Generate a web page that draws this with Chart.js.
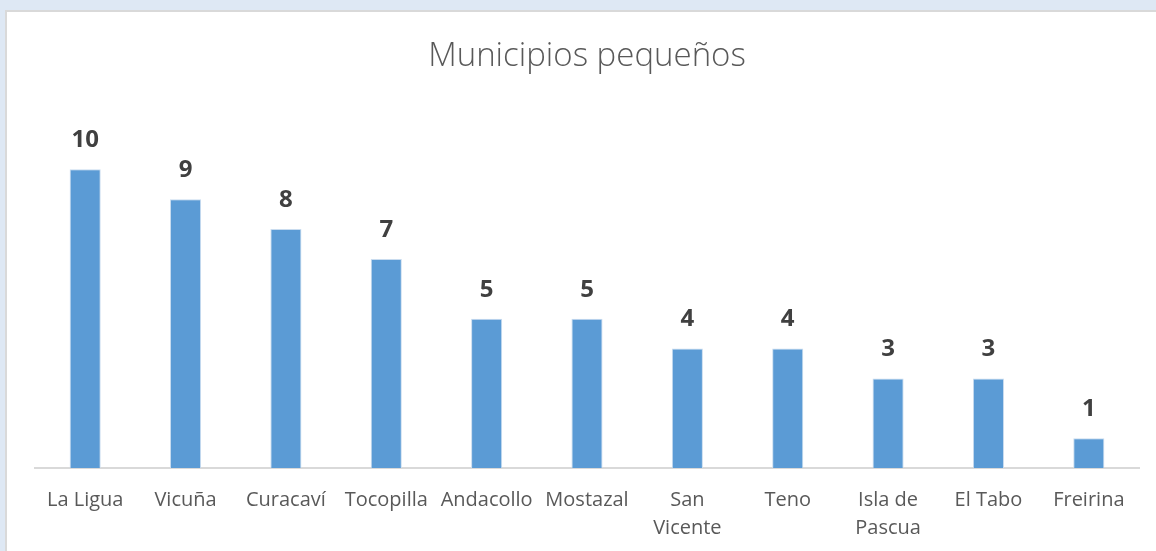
<!DOCTYPE html>
<html>
<head>
<meta charset="utf-8">
<script src="https://cdn.jsdelivr.net/npm/chart.js@4"></script>
<style>
    html, body { margin: 0; padding: 0; }
    body { width: 1156px; height: 551px; background: #dee8f4; position: relative; overflow: hidden; }
    #box { position: absolute; left: 5px; top: 10px; width: 1151px; height: 541px; background: #fff; border-left: 2px solid #d9d9d9; border-top: 2px solid #d9d9d9; }
    #wrap { position: absolute; left: 0; top: 0; width: 1151px; height: 539px; }
</style>
</head>
<body>
<div id="box"><div id="wrap"><canvas id="chart"></canvas></div></div>
<script>
const categories = ['La Ligua', 'Vicuña', 'Curacaví', 'Tocopilla', 'Andacollo', 'Mostazal',
    ['San', 'Vicente'], 'Teno', ['Isla de', 'Pascua'], 'El Tabo', 'Freirina'];
const values = [10, 9, 8, 7, 5, 5, 4, 4, 3, 3, 1];
const chartTitle = 'Municipios pequeños';

// draws the value above each bar
const valueLabels = {
    id: 'valueLabels',
    afterDatasetsDraw(chart) {
        const ctx = chart.ctx;
        const meta = chart.getDatasetMeta(0);
        ctx.save();
        ctx.font = 'bold 24px "Open Sans"';
        ctx.fillStyle = '#404040';
        ctx.textAlign = 'center';
        ctx.textBaseline = 'middle';
        meta.data.forEach((bar, i) => {
            ctx.fillText(values[i], bar.x, bar.y - 29);
        });
        ctx.restore();
    }
};

new Chart(document.getElementById('chart'), {
    type: 'bar',
    data: {
        labels: categories,
        datasets: [{
            data: values,
            backgroundColor: '#5b9bd5',
            borderColor: '#c9dcef',
            borderWidth: { left: 1, right: 1, top: 1, bottom: 0 },
            barPercentage: 0.62,
            categoryPercentage: 0.5
        }]
    },
    options: {
        responsive: true,
        maintainAspectRatio: false,
        animation: false,
        layout: { padding: { left: 28, right: 19, top: 0, bottom: -9 } },
        plugins: {
            legend: { display: false },
            tooltip: { enabled: false },
            title: {
                display: true,
                text: chartTitle,
                color: '#595959',
                font: { family: 'Open Sans', size: 33, weight: '300' },
                padding: { top: 25, bottom: 33 }
            }
        },
        scales: {
            x: {
                grid: { display: false, drawTicks: false },
                border: { color: '#d9d9d9', width: 2 },
                ticks: {
                    color: '#595959',
                    font: { family: 'Open Sans', size: 20, lineHeight: 1.4 },
                    padding: 18,
                    maxRotation: 0,
                    autoSkip: false
                }
            },
            y: {
                display: false,
                min: 0,
                max: 12
            }
        }
    },
    plugins: [valueLabels]
});
</script>
</body>
</html>
